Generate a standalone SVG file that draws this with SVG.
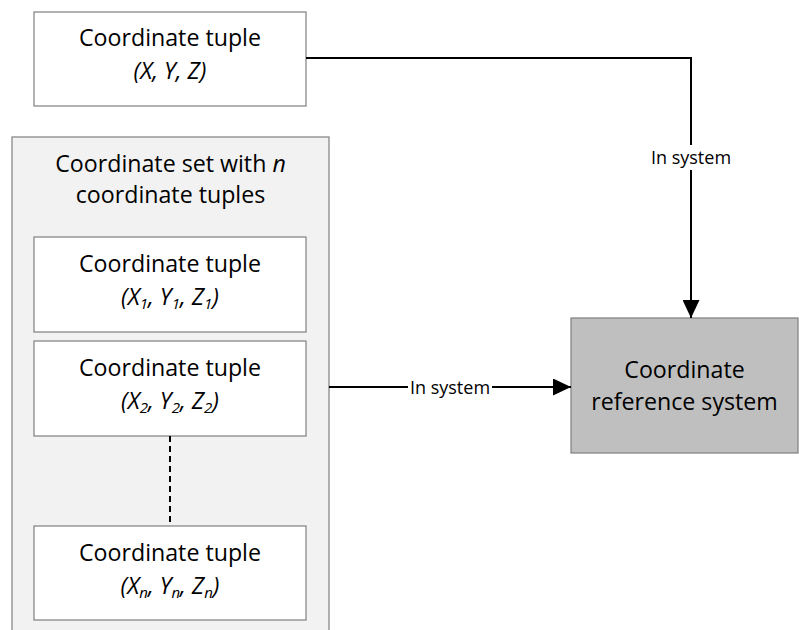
<svg xmlns="http://www.w3.org/2000/svg" width="799" height="630" viewBox="0 0 799 630">
  <style>
    .box { fill: #ffffff; stroke: #7f7f7f; stroke-width: 1.2; }
    .set { fill: #f2f2f2; stroke: #7f7f7f; stroke-width: 1.2; }
    .crs { fill: #bfbfbf; stroke: #7f7f7f; stroke-width: 1.2; }
    .t { font-family: "Open Sans", "Liberation Sans", sans-serif; font-size: 23.2px; fill: #000000; text-anchor: middle; }
    .i { font-style: italic; }
    .sub { font-size: 15px; }
    .lbl { font-family: "Open Sans", "Liberation Sans", sans-serif; font-size: 18px; fill: #000000; text-anchor: middle; }
    .wire { fill: none; stroke: #000000; stroke-width: 2; }
    .dash { fill: none; stroke: #000000; stroke-width: 2; stroke-dasharray: 6 4; }
  </style>
  <defs>
    <marker id="arrow" viewBox="0 0 18 17" refX="18" refY="8.5" markerWidth="18" markerHeight="17" markerUnits="userSpaceOnUse" orient="auto">
      <path d="M0,0 L18,8.5 L0,17 Z" fill="#000000"/>
    </marker>
  </defs>
  <rect width="799" height="630" fill="#ffffff"/>

  <g id="tuple-single">
    <rect class="box" x="34" y="12" width="272" height="94"/>
    <text class="t" x="170" y="46">Coordinate tuple</text>
    <text class="t i" x="170" y="79">(X, Y, Z)</text>
  </g>

  <g id="coordinate-set">
    <rect class="set" x="12" y="137" width="317" height="510"/>
    <text class="t" x="170.5" y="172">Coordinate set with <tspan class="i">n</tspan></text>
    <text class="t" x="170.5" y="203">coordinate tuples</text>
  </g>

  <g id="tuple-1">
    <rect class="box" x="34" y="237" width="272" height="95"/>
    <text class="t" x="170" y="272">Coordinate tuple</text>
    <text class="t i" x="170" y="305">(X<tspan class="sub" dy="4">1</tspan><tspan dy="-4">, Y</tspan><tspan class="sub" dy="4">1</tspan><tspan dy="-4">, Z</tspan><tspan class="sub" dy="4">1</tspan><tspan dy="-4">)</tspan></text>
  </g>

  <g id="tuple-2">
    <rect class="box" x="34" y="341" width="272" height="95"/>
    <text class="t" x="170" y="376">Coordinate tuple</text>
    <text class="t i" x="170" y="409">(X<tspan class="sub" dy="4">2</tspan><tspan dy="-4">, Y</tspan><tspan class="sub" dy="4">2</tspan><tspan dy="-4">, Z</tspan><tspan class="sub" dy="4">2</tspan><tspan dy="-4">)</tspan></text>
  </g>

  <g id="tuple-n">
    <rect class="box" x="34" y="526" width="272" height="94"/>
    <text class="t" x="170" y="561">Coordinate tuple</text>
    <text class="t i" x="170" y="594">(X<tspan class="sub" dy="4">n</tspan><tspan dy="-4">, Y</tspan><tspan class="sub" dy="4">n</tspan><tspan dy="-4">, Z</tspan><tspan class="sub" dy="4">n</tspan><tspan dy="-4">)</tspan></text>
  </g>

  <g id="crs">
    <rect class="crs" x="571" y="318" width="227" height="135"/>
    <text class="t" x="684.5" y="378">Coordinate</text>
    <text class="t" x="684.5" y="410">reference system</text>
  </g>

  <g id="connectors">
    <line class="dash" x1="170" y1="436" x2="170" y2="526"/>
    <path class="wire" d="M306,58 H691 V318" marker-end="url(#arrow)"/>
    <rect x="650" y="145" width="84" height="25" fill="#ffffff"/>
    <text class="lbl" x="691" y="164">In system</text>
    <path class="wire" d="M329,387 H571" marker-end="url(#arrow)"/>
    <rect x="408" y="376" width="84" height="22" fill="#ffffff"/>
    <text class="lbl" x="450" y="394">In system</text>
  </g>
</svg>
